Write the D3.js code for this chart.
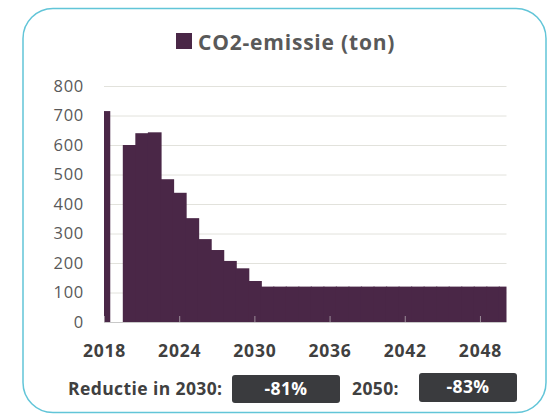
<!DOCTYPE html>
<html>
<head>
<meta charset="utf-8">
<script src="https://cdn.jsdelivr.net/npm/d3@7"></script>
<style>
  html, body { margin: 0; padding: 0; background: #ffffff; }
  svg { display: block; }
  text { font-family: "Open Sans", Lato, sans-serif; }
</style>
</head>
<body>
<svg id="chart" width="553" height="414"></svg>
<script>
// ---- data ----
const years = d3.range(2018, 2051);
const emissions = [715, 0, 600, 640, 643, 484, 438, 352, 281, 244, 207, 182, 139,
  120, 120, 120, 120, 120, 120, 120, 120, 120, 120, 120, 120, 120, 120, 120, 120, 120, 120, 120, 120];
const yTicks = [0, 100, 200, 300, 400, 500, 600, 700, 800];
const xTicks = [2018, 2024, 2030, 2036, 2042, 2048];
const seriesName = "CO2-emissie (ton)";
const reductionLabel = "Reductie in 2030:";
const reduction2030 = "-81%";
const yearLabel2050 = "2050:";
const reduction2050 = "-83%";

const data = years.map((yr, i) => ({ year: yr, value: emissions[i] }));

const svg = d3.select("#chart");
const barColor = "#4a2747";
const FONT = "'Open Sans', Lato, sans-serif";

// frame
svg.append("rect")
  .attr("x", 23).attr("y", 8.5).attr("width", 523).attr("height", 404)
  .attr("rx", 30).attr("ry", 30)
  .attr("fill", "none").attr("stroke", "#62c5d8").attr("stroke-width", 1.5);

const pLeft = 104, pRight = 505, pTop = 86, pBottom = 322;
const x = d3.scaleLinear().domain([2018, 2050]).range([pLeft, pRight]);
const y = d3.scaleLinear().domain([0, 800]).range([pBottom, pTop]);
const bw = x(2019) - x(2018);

// gridlines
svg.append("g")
  .attr("transform", `translate(${pLeft},0)`)
  .call(d3.axisLeft(y).tickValues(yTicks.slice(1)).tickSize(-(pRight + 1.5 - pLeft)).tickFormat(""))
  .call(g => g.select(".domain").remove())
  .call(g => g.selectAll("line").attr("stroke", "#e2e2dc").attr("stroke-width", 1));

// clip
svg.append("clipPath").attr("id", "plotclip")
  .append("rect").attr("x", pLeft).attr("y", 0).attr("width", pRight + 1.5 - pLeft).attr("height", 414);

// bars (slightly overlapped to avoid seams between adjacent bars)
svg.append("g").attr("clip-path", "url(#plotclip)")
  .selectAll("rect").data(data.filter(d => d.value > 0)).join("rect")
  .attr("x", d => x(d.year) - bw / 2)
  .attr("width", d => {
    const next = data.find(e => e.year === d.year + 1);
    return next && next.value > 0 ? bw + 1.2 : bw;
  })
  .attr("y", d => y(d.value))
  .attr("height", d => y(0) - y(d.value))
  .attr("fill", barColor);

// x axis
const xAxis = svg.append("g")
  .attr("transform", `translate(0,${pBottom})`)
  .call(d3.axisBottom(x).tickValues(xTicks).tickFormat(d3.format("d")).tickSizeInner(-6).tickSizeOuter(0).tickPadding(14));
xAxis.select(".domain").attr("stroke", "#c8c8c8").attr("d", `M${pLeft},0.5H${pRight + 1.5}`);
xAxis.selectAll(".tick line").attr("stroke", "#9c8e9a").attr("stroke-width", 1);
xAxis.selectAll(".tick text")
  .attr("fill", "#404040").attr("font-size", 17.5).attr("font-weight", "bold")
  .attr("letter-spacing", 0.8)
  .attr("y", 35).attr("dy", 0)
  .style("font-family", FONT);

// y axis labels
const yAxis = svg.append("g")
  .attr("transform", `translate(${pLeft},0)`)
  .call(d3.axisLeft(y).tickValues(yTicks).tickSize(0).tickPadding(20).tickFormat(d3.format("d")));
yAxis.select(".domain").remove();
yAxis.selectAll(".tick text")
  .attr("fill", "#595959").attr("font-size", 16.5).attr("letter-spacing", 0.7)
  .style("font-family", FONT);

// legend / title
const titleG = svg.append("g");
titleG.append("rect").attr("x", 176).attr("y", 33).attr("width", 16).attr("height", 16).attr("fill", barColor);
titleG.append("text").attr("x", 198).attr("y", 49.5)
  .attr("fill", "#595959").attr("font-size", 21).attr("font-weight", "bold")
  .attr("letter-spacing", 0.8)
  .text(seriesName);

// bottom row
const bottomSize = 17.5, bottomLs = 0.4;
svg.append("text").attr("x", 68).attr("y", 395)
  .attr("fill", "#404040").attr("font-size", bottomSize).attr("font-weight", "bold").attr("letter-spacing", bottomLs)
  .text(reductionLabel);
svg.append("rect").attr("x", 232).attr("y", 375).attr("width", 108).attr("height", 28).attr("rx", 3)
  .attr("fill", "#3a3b3e");
svg.append("text").attr("x", 286).attr("y", 395).attr("text-anchor", "middle")
  .attr("fill", "#ffffff").attr("font-size", bottomSize).attr("font-weight", "bold").attr("letter-spacing", bottomLs)
  .text(reduction2030);
svg.append("text").attr("x", 352).attr("y", 395)
  .attr("fill", "#404040").attr("font-size", bottomSize).attr("font-weight", "bold").attr("letter-spacing", bottomLs)
  .text(yearLabel2050);
svg.append("rect").attr("x", 419).attr("y", 373).attr("width", 98).attr("height", 29).attr("rx", 3)
  .attr("fill", "#3a3b3e");
svg.append("text").attr("x", 468).attr("y", 393).attr("text-anchor", "middle")
  .attr("fill", "#ffffff").attr("font-size", bottomSize).attr("font-weight", "bold").attr("letter-spacing", bottomLs)
  .text(reduction2050);
</script>
</body>
</html>
